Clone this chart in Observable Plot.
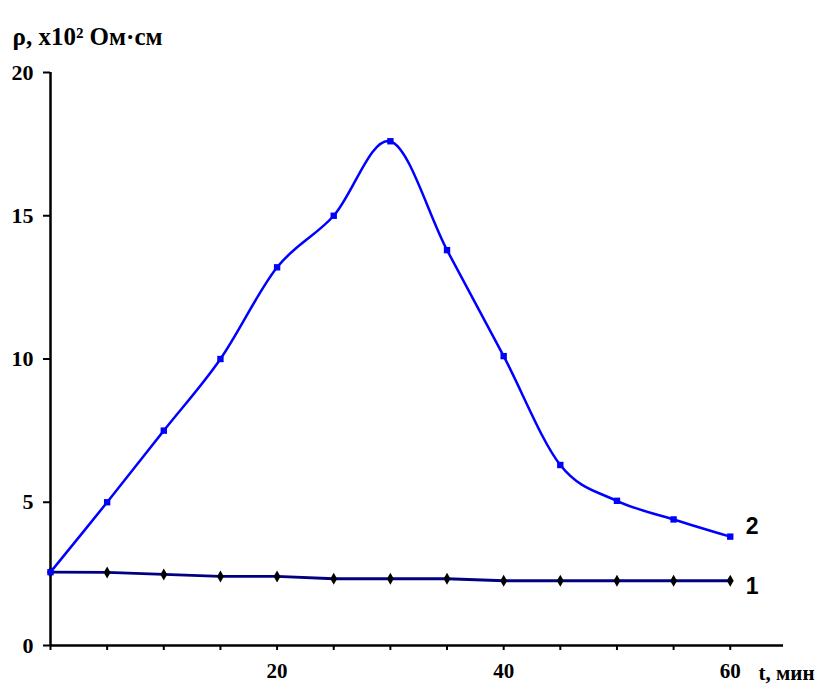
<!DOCTYPE html>
<html>
<head>
<meta charset="utf-8">
<script src="https://cdn.jsdelivr.net/npm/d3@7"></script>
<script src="https://cdn.jsdelivr.net/npm/@observablehq/plot@0.6"></script>
<style>
  html, body { margin: 0; padding: 0; background: #fff; }
</style>
</head>
<body>
<div id="chart"></div>
<script>
// Data
const times = [0, 5, 10, 15, 20, 25, 30, 35, 40, 45, 50, 55, 60];
const rho1 = [2.56, 2.55, 2.48, 2.41, 2.41, 2.33, 2.33, 2.33, 2.26, 2.26, 2.26, 2.26, 2.26];
const rho2 = [2.56, 5.0, 7.5, 10.0, 13.2, 15.0, 17.6, 13.8, 10.1, 6.3, 5.05, 4.4, 3.8];
const seriesNames = ["1", "2"];
const xTicks = [0, 5, 10, 15, 20, 25, 30, 35, 40, 45, 50, 55, 60];
const xTickLabels = [20, 40, 60];
const yTicks = [0, 5, 10, 15, 20];
const titleText = "ρ, x10² Ом·см";
const xLabelText = "t, мин";

const s1 = times.map((t, i) => ({t, v: rho1[i], s: seriesNames[0]}));
const s2 = times.map((t, i) => ({t, v: rho2[i], s: seriesNames[1]}));

const serif = "'Liberation Serif', 'Times New Roman', serif";
const sans = "'Liberation Sans', Arial, sans-serif";

const chart = Plot.plot({
  width: 818,
  height: 686,
  marginLeft: 50,
  marginRight: 35,
  marginTop: 72,
  marginBottom: 41,
  style: {fontFamily: serif, fontSize: "22px", fontWeight: "bold", color: "#000", background: "#fff"},
  x: {domain: [0, 64.7]},
  y: {domain: [0, 20]},
  marks: [
    Plot.axisX({ticks: xTicks, tickFormat: d => xTickLabels.includes(d) ? String(d) : "", tickSize: 5, tickPadding: 13, strokeWidth: 2, label: null, fontSize: 21, fontWeight: "bold", fontFamily: serif}),
    Plot.axisY({ticks: yTicks, tickSize: 7, tickPadding: 10, strokeWidth: 2, label: null, fontSize: 22, fontWeight: "bold", fontFamily: serif}),
    Plot.ruleY([0], {stroke: "#000", strokeWidth: 2.5}),
    Plot.ruleX([0], {y1: 0, y2: 20, stroke: "#000", strokeWidth: 2.5}),
    Plot.line(s1, {x: "t", y: "v", stroke: "#000080", strokeWidth: 2.8}),
    Plot.dot(s1, {x: "t", y: "v", symbol: "diamond", r: 3.6, fill: "#000", stroke: "none"}),
    Plot.line(s2, {x: "t", y: "v", stroke: "#0000ff", strokeWidth: 2.5, curve: "cardinal", tension: 0}),
    Plot.dot(s2, {x: "t", y: "v", symbol: "square", r: 3.6, fill: "#0000ff", stroke: "none"}),
    Plot.text(s2.slice(-1), {x: "t", y: "v", text: "s", dx: 22, dy: -10, textAnchor: "middle", fontFamily: sans, fontSize: 23, fontWeight: "bold", fill: "#000"}),
    Plot.text(s1.slice(-1), {x: "t", y: "v", text: "s", dx: 22, dy: 6, textAnchor: "middle", fontFamily: sans, fontSize: 23, fontWeight: "bold", fill: "#000"}),
    Plot.text([titleText], {frameAnchor: "top-left", dx: -38, dy: -36, textAnchor: "start", lineAnchor: "middle", fontFamily: serif, fontSize: 25, fontWeight: "bold", fill: "#000"}),
    Plot.text([xLabelText], {frameAnchor: "bottom-right", dx: -25, dy: 28, textAnchor: "start", lineAnchor: "middle", fontFamily: serif, fontSize: 21, fontWeight: "bold", fill: "#000"})
  ]
});
document.getElementById("chart").appendChild(chart);
</script>
</body>
</html>
